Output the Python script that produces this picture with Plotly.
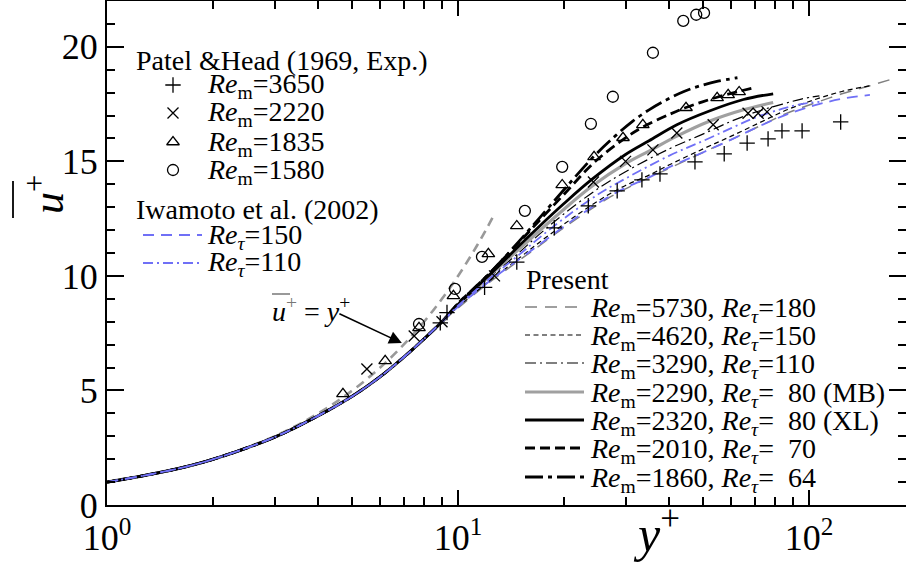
import plotly.graph_objects as go

FONT = "Liberation Serif"
BLUE = "#7070f6"

# ---------------- data ----------------
# common near-wall part of all computed profiles
NEAR_Y = [1, 1.5, 2, 3, 4, 5, 6, 7, 8, 9]
NEAR_U = [1.0, 1.5, 1.99, 2.96, 3.9, 4.75, 5.6, 6.45, 7.25, 8.0]

# Present
P5730_Y = [10, 12, 15, 17, 20, 26.5, 30, 40, 50, 60, 72.5, 86.5, 104, 124, 149, 173]
P5730_U = [8.6, 9.6, 10.7, 11.3, 12.1, 13.35, 13.8, 14.7, 15.4, 15.95, 16.55, 17.1, 17.55, 17.95, 18.3, 18.6]
P4620_Y = [10, 12, 15, 17, 20, 23, 26.5, 30, 35, 40, 50, 60, 72.5, 86.5, 104, 124, 149]
P4620_U = [8.65, 9.65, 10.8, 11.45, 12.25, 12.9, 13.5, 13.95, 14.4, 14.85, 15.55, 16.1, 16.7, 17.25, 17.7, 18.05, 18.3]
P3290_Y = [10, 12, 15, 17, 20, 25, 30, 40, 50, 60, 72, 84, 95, 107]
P3290_U = [8.7, 9.8, 11.05, 11.8, 12.7, 13.8, 14.55, 15.55, 16.2, 16.75, 17.2, 17.5, 17.72, 17.86]
P2290_Y = [10, 11, 12, 13, 15, 17, 20, 24, 30, 35, 42, 52, 65, 79]
P2290_U = [8.75, 9.3, 9.85, 10.35, 11.2, 11.95, 12.9, 13.9, 14.9, 15.45, 16.1, 16.75, 17.25, 17.57]
P2320_Y = [10, 11, 12, 13, 15, 17, 20, 24, 30, 35, 42, 52, 65, 79]
P2320_U = [8.75, 9.35, 9.9, 10.4, 11.35, 12.15, 13.15, 14.2, 15.3, 15.9, 16.6, 17.2, 17.7, 17.95]
P2010_Y = [10, 11, 12, 13, 15, 17, 20, 24.4, 29.5, 33.6, 40, 44.6, 54.7, 63, 69]
P2010_U = [8.8, 9.4, 9.95, 10.5, 11.5, 12.4, 13.55, 14.95, 15.95, 16.5, 17.05, 17.35, 17.8, 18.05, 18.2]
P1860_Y = [10, 11, 12, 13, 15, 17, 20, 24.3, 28, 31.4, 35, 39.4, 44, 49, 55, 62.5]
P1860_U = [8.8, 9.4, 9.95, 10.5, 11.55, 12.5, 13.75, 15.2, 16.1, 16.75, 17.25, 17.7, 18.05, 18.3, 18.5, 18.65]

# Iwamoto et al. (2002)
IW150_Y = [10, 12, 15, 17, 20, 23, 26.5, 30, 35, 40, 50, 60, 72.5, 86.5, 104, 124, 149]
IW150_U = [8.65, 9.65, 10.75, 11.35, 12.15, 12.8, 13.4, 13.85, 14.3, 14.75, 15.4, 15.95, 16.55, 17.05, 17.45, 17.73, 17.9]
IW110_Y = [10, 12, 15, 17, 20, 25, 30, 40, 50, 60, 70, 84, 95, 107]
IW110_U = [8.7, 9.75, 10.95, 11.65, 12.5, 13.55, 14.25, 15.25, 15.9, 16.45, 16.9, 17.3, 17.5, 17.6]

# u+ = y+
LIN_Y = [1, 1.5, 2, 3, 4, 5, 6, 7, 8, 9, 10, 11, 12, 12.7]
LIN_U = [1, 1.5, 2, 3, 4, 5, 6, 7, 8, 9, 10, 11, 12, 12.7]

# Patel & Head (1969, Exp.)
PH3650_Y = [8.9, 9.3, 11.9, 14.7, 18.8, 23.5, 28.4, 33.4, 37.6, 47.3, 57.3, 66.6, 76.4, 83.7, 95.5, 123]
PH3650_U = [7.95, 8.4, 9.5, 10.6, 12.1, 13.06, 13.71, 14.19, 14.45, 14.98, 15.33, 15.8, 15.98, 16.33, 16.33, 16.72]
PH2220_Y = [5.5, 7.5, 9.0, 12.7, 24.3, 30.0, 35.9, 42.0, 53.3, 67.0, 71.6, 75.9]
PH2220_U = [5.94, 7.38, 8.0, 10.0, 14.1, 15.0, 15.5, 16.24, 16.6, 17.1, 17.1, 17.16]
PH1835_Y = [4.7, 6.2, 7.74, 9.7, 12.2, 14.7, 19.8, 24.4, 29.5, 33.6, 44.6, 54.7, 58.8, 63.2]
PH1835_U = [4.85, 6.29, 7.73, 9.13, 10.96, 12.18, 13.97, 15.2, 16.03, 16.59, 17.34, 17.77, 17.9, 18.03]
PH1580_Y = [7.74, 9.8, 11.7, 15.5, 19.8, 23.9, 27.6, 35.9, 43.8, 47.7, 50.2]
PH1580_U = [7.9, 9.43, 10.83, 12.84, 14.76, 16.64, 17.82, 19.74, 21.13, 21.4, 21.48]

X_TICKS = [1, 10, 100]
X_TICKTEXT = ["10<sup>0</sup>", "10<sup>1</sup>", "10<sup>2</sup>"]
Y_TICKS = [0, 5, 10, 15, 20]

PH_LABELS = ["<i>Re</i><sub>m</sub>=3650", "<i>Re</i><sub>m</sub>=2220",
             "<i>Re</i><sub>m</sub>=1835", "<i>Re</i><sub>m</sub>=1580"]
IW_LABELS = ["<i>Re</i><sub><i>\u03c4</i></sub>=150", "<i>Re</i><sub><i>\u03c4</i></sub>=110"]
NB = "\u00a0\u00a0"
PR_LABELS = [
    "<i>Re</i><sub>m</sub>=5730, <i>Re</i><sub><i>\u03c4</i></sub>=180",
    "<i>Re</i><sub>m</sub>=4620, <i>Re</i><sub><i>\u03c4</i></sub>=150",
    "<i>Re</i><sub>m</sub>=3290, <i>Re</i><sub><i>\u03c4</i></sub>=110",
    "<i>Re</i><sub>m</sub>=2290, <i>Re</i><sub><i>\u03c4</i></sub>=" + NB + "80 (MB)",
    "<i>Re</i><sub>m</sub>=2320, <i>Re</i><sub><i>\u03c4</i></sub>=" + NB + "80 (XL)",
    "<i>Re</i><sub>m</sub>=2010, <i>Re</i><sub><i>\u03c4</i></sub>=" + NB + "70",
    "<i>Re</i><sub>m</sub>=1860, <i>Re</i><sub><i>\u03c4</i></sub>=" + NB + "64",
]

# ---------------- styles ----------------
DASH_GRAY_LONG = "12px,8px"
DASH_SHORT = "5px,3.5px"
DASH_DOT_THIN = "11px,4px,2px,4px"
DASH_THICK = "10px,5px"
DASH_DOT_THICK = "18px,5px,4px,5px"
DASH_BLUE = "11px,7px"
DASH_BLUE_DOT = "10px,4px,2px,4px"
DASH_LIN = "9px,6px"

present = [
    (P5730_Y, P5730_U, dict(color="#808080", width=1.5, dash=DASH_GRAY_LONG)),
    (P4620_Y, P4620_U, dict(color="black", width=1.2, dash=DASH_SHORT)),
    (P3290_Y, P3290_U, dict(color="black", width=1.2, dash=DASH_DOT_THIN)),
    (P2290_Y, P2290_U, dict(color="#a0a0a0", width=3.2)),
    (P2320_Y, P2320_U, dict(color="black", width=2.8)),
    (P2010_Y, P2010_U, dict(color="black", width=2.8, dash=DASH_THICK)),
    (P1860_Y, P1860_U, dict(color="black", width=2.8, dash=DASH_DOT_THICK)),
]
iwamoto = [
    (IW150_Y, IW150_U, dict(color=BLUE, width=1.8, dash=DASH_BLUE)),
    (IW110_Y, IW110_U, dict(color=BLUE, width=1.8, dash=DASH_BLUE_DOT)),
]
patel = [
    (PH3650_Y, PH3650_U, "cross-thin"),
    (PH2220_Y, PH2220_U, "x-thin"),
    (PH1835_Y, PH1835_U, "triangle-up-open"),
    (PH1580_Y, PH1580_U, "circle-open"),
]
MSIZE = 11


def mk(sym):
    return dict(symbol=sym, size=MSIZE, color="black", line=dict(width=1.3, color="black"))


fig = go.Figure()

fig.add_trace(go.Scatter(x=LIN_Y, y=LIN_U, mode="lines", line_shape="spline",
                         line=dict(color="#999999", width=2.6, dash=DASH_LIN), showlegend=False))
for ys, us, ln in present:
    fig.add_trace(go.Scatter(x=NEAR_Y + ys, y=NEAR_U + us, mode="lines", line_shape="spline",
                             line=ln, showlegend=False))
for ys, us, ln in iwamoto:
    fig.add_trace(go.Scatter(x=NEAR_Y + ys, y=NEAR_U + us, mode="lines", line_shape="spline",
                             line=ln, showlegend=False))
for ys, us, sym in patel:
    fig.add_trace(go.Scatter(x=ys, y=us, mode="markers", marker=mk(sym), showlegend=False))

# right-side ticks helper axis
fig.add_trace(go.Scatter(x=[None], y=[None], yaxis="y2", showlegend=False, hoverinfo="skip"))

# ---------------- custom legend (paper-pixel layout) ----------------
W, H = 906, 571
ML, MR, MT, MB = 107, 0, 1, 66
PW, PH = W - ML - MR, H - MT - MB


def px(x):
    return (x - ML) / PW


def py(y):
    return (H - MB - y) / PH


ann = []


def text(x, y, s, size=28):
    ann.append(dict(x=px(x), y=py(y), xref="paper", yref="paper", text=s, showarrow=False,
                    xanchor="left", yanchor="middle", font=dict(family=FONT, size=size, color="black")))


text(134, 60, "Patel &amp;Head (1969, Exp.)")
PH_ROWS = [85, 113, 142, 170]
for (ys, us, sym), lab, r in zip(patel, PH_LABELS, PH_ROWS):
    fig.add_trace(go.Scatter(x=[px(173)], y=[py(r)], xaxis="x2", yaxis="y3", mode="markers",
                             marker=mk(sym), showlegend=False, hoverinfo="skip", cliponaxis=False))
    text(205, r + 1, lab)

text(134, 209, "Iwamoto et al. (2002)")
IW_ROWS = [235, 263]
for (ys, us, ln), lab, r in zip(iwamoto, IW_LABELS, IW_ROWS):
    fig.add_trace(go.Scatter(x=[px(143), px(202)], y=[py(r), py(r)], xaxis="x2", yaxis="y3",
                             mode="lines", line=ln, showlegend=False, hoverinfo="skip", cliponaxis=False))
    text(205, r + 1, lab)

text(524, 279, "Present")
PR_ROWS = [307, 335, 363, 392, 420, 448, 477]
for (ys, us, ln), lab, r in zip(present, PR_LABELS, PR_ROWS):
    fig.add_trace(go.Scatter(x=[px(525), px(584)], y=[py(r), py(r)], xaxis="x2", yaxis="y3",
                             mode="lines", line=ln, showlegend=False, hoverinfo="skip", cliponaxis=False))
    text(588, r + 2, lab)

# u+ = y+ label and arrow
text(270, 309, "<i>u</i><sup><span style='color:#777'>+</span></sup> = <i>y</i><sup>+</sup>", size=28)
ann.append(dict(x=0.840, y=7.07, xref="x", yref="y", ax=-64, ay=-30, text="", showarrow=True,
                arrowhead=2, arrowsize=1.6, arrowwidth=1.6, arrowcolor="black"))

# axis titles
ann.append(dict(x=px(656), y=py(530), xref="paper", yref="paper", text="<i>y</i><sup>+</sup>",
                showarrow=False, xanchor="center", yanchor="middle",
                font=dict(family=FONT, size=50, color="black")))
ann.append(dict(x=px(46), y=py(195), xref="paper", yref="paper", text="<i>u</i><sup>+</sup>",
                showarrow=False, xanchor="center", yanchor="middle", textangle=-90,
                font=dict(family=FONT, size=44, color="black")))

shapes = [
    dict(type="line", xref="paper", yref="paper", x0=px(13), x1=px(13), y0=py(181), y1=py(218),
         line=dict(color="black", width=1.8)),
    dict(type="line", xref="paper", yref="paper", x0=px(272), x1=px(290), y0=py(294), y1=py(294),
         line=dict(color="#777777", width=1.5)),
]

minor_x = [2, 3, 4, 5, 6, 7, 8, 9, 20, 30, 40, 50, 60, 70, 80, 90, 200]
axis_common = dict(showgrid=False, zeroline=False, ticks="inside", tickwidth=2, tickcolor="black",
                   linecolor="black", linewidth=2)

fig.update_layout(
    width=W, height=H, margin=dict(l=ML, r=MR, t=MT, b=MB, pad=0),
    paper_bgcolor="white", plot_bgcolor="white",
    font=dict(family=FONT, color="black"),
    xaxis=dict(type="log", range=[0, 2.276], tickvals=X_TICKS, ticktext=X_TICKTEXT,
               ticklen=15, showline=True, mirror="ticks",
               tickfont=dict(family=FONT, size=36, color="black"),
               minor=dict(tickvals=minor_x, ticks="inside", ticklen=8, tickwidth=1.5, tickcolor="black"),
               **axis_common),
    yaxis=dict(range=[0, 22], tickvals=Y_TICKS, ticklen=17, showline=True,
               tickfont=dict(family=FONT, size=36, color="black"),
               minor=dict(dtick=1, ticks="inside", ticklen=8, tickwidth=1.5, tickcolor="black"),
               **axis_common),
    yaxis2=dict(range=[0, 22], overlaying="y", side="right", tickvals=Y_TICKS, ticklen=17,
                showline=False, showticklabels=False,
                minor=dict(dtick=1, ticks="inside", ticklen=8, tickwidth=1.5, tickcolor="black"),
                showgrid=False, zeroline=False, ticks="inside", tickwidth=2, tickcolor="black"),
    xaxis2=dict(range=[0, 1], overlaying="x", visible=False, anchor="y3"),
    yaxis3=dict(range=[0, 1], overlaying="y", visible=False, anchor="x2"),
    annotations=ann, shapes=shapes, showlegend=False,
)

fig.write_html("out.html")
